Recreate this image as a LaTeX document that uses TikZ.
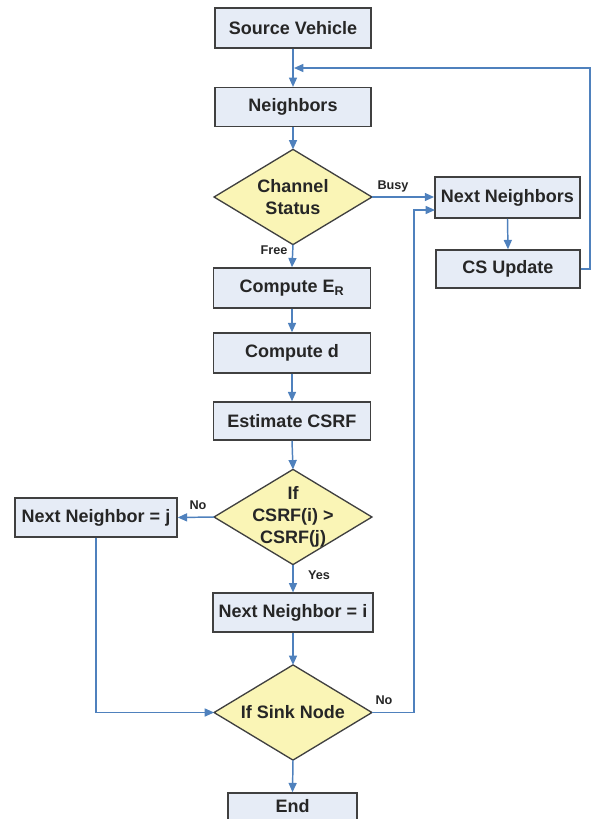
\documentclass[tikz,border=0pt]{standalone}
\usepackage{fontspec}
\setmainfont{Liberation Sans}
\usetikzlibrary{arrows.meta,backgrounds}
\definecolor{boxfill}{HTML}{E6ECF6}
\definecolor{boxdraw}{HTML}{404040}
\definecolor{dfill}{HTML}{FAF5B6}
\definecolor{lineblue}{HTML}{4F81BD}
\begin{document}
\begin{tikzpicture}[x=0.75pt,y=-0.75pt,
  stepbox/.style={draw=boxdraw,line width=1.1pt,fill=boxfill,inner sep=0pt,
    font=\fontsize{13.5}{16}\selectfont\bfseries,text=black!85},
  decbox/.style={inner sep=0pt,minimum width=118pt,minimum height=71pt,align=center,
    font=\fontsize{13.5}{16.5}\selectfont\bfseries,text=black!85},
  conn/.style={draw=lineblue,line width=1.1pt,-{Triangle[length=7pt,width=6pt]}},
  plain/.style={draw=lineblue,line width=1.1pt},
  lbl/.style={font=\fontsize{9.5}{11}\selectfont\bfseries,text=black!85,inner sep=0pt}]
\useasboundingbox (0,0) rectangle (598,819);
\clip (0,0) rectangle (598,819);

\node[stepbox,minimum width=117pt,minimum height=30pt] (sv) at (293,28) {Source Vehicle};
\node[stepbox,minimum width=117pt,minimum height=29pt] (nb) at (293,107) {Neighbors};
\node[decbox] (cs) at (293,197) {Channel\\Status};
\node[stepbox,minimum width=109pt,minimum height=31pt] (nn) at (507.5,197.5) {Next Neighbors};
\node[stepbox,minimum width=108pt,minimum height=28.5pt] (csu) at (508,269) {CS Update};
\node[stepbox,minimum width=118pt,minimum height=30pt] (cer) at (292,288) {Compute E\textsubscript{R}};
\node[stepbox,minimum width=118pt,minimum height=30pt] (cd) at (292,353) {Compute d};
\node[stepbox,minimum width=118pt,minimum height=28.5pt] (ec) at (292,421) {Estimate CSRF};
\node[decbox] (csrf) at (293,517) {If\\CSRF(i) >\\CSRF(j)};
\node[stepbox,minimum width=121.5pt,minimum height=29pt] (nnj) at (96,517.5) {Next Neighbor = j};
\node[stepbox,minimum width=120pt,minimum height=29pt] (nni) at (293,612.5) {Next Neighbor = i};
\node[decbox] (sink) at (293,712.5) {If Sink Node};
\node[stepbox,minimum width=97pt,minimum height=30pt,text depth=0pt] (end) at (292.5,813) {};
\node[font=\fontsize{13.5}{16}\selectfont\bfseries,text=black!85,inner sep=0pt] (endt) at (292.5,806) {End};

\begin{scope}[on background layer]
  \foreach \d in {cs,csrf,sink}{
    \draw[draw=boxdraw,line width=1pt,fill=dfill]
      (\d.north) -- (\d.east) -- (\d.south) -- (\d.west) -- cycle;
  }
\end{scope}

\coordinate (merge) at (294,68);
\coordinate (rtop) at (590,68);
\coordinate (rbot) at (590,269);
\coordinate (vx) at (414,712.5);
\coordinate (vt) at (414,210);
\coordinate (nnin) at (435,210);
\coordinate (jc) at (96,712.5);

\draw[conn] (sv.south) -- (nb.north);
\draw[conn] (csu.east) -- (rbot) -- (rtop) -- (merge);
\draw[conn] (nb.south) -- (cs.north);
\draw[conn] (cs.east) -- (cs.east -| nn.west);
\node[lbl] (busy) at (393,186) {Busy};
\draw[conn] (cs.south) -- (cer.north);
\node[lbl] (free) at (274,250) {Free};
\draw[conn] (cer.south) -- (cd.north);
\draw[conn] (cd.south) -- (ec.north);
\draw[conn] (ec.south) -- (csrf.north);
\draw[conn] (csrf.west) -- (nnj.east);
\node[lbl] (no1) at (198,505) {No};
\draw[conn] (csrf.south) -- (nni.north);
\node[lbl] (yes) at (319,575) {Yes};
\draw[conn] (nni.south) -- (sink.north);
\draw[conn] (nnj.south) -- (jc) -- (sink.west);
\draw[conn] (sink.east) -- (vx) -- (vt) -- (nnin);
\node[lbl] (no2) at (384,700) {No};
\draw[conn] (nn.south) -- (csu.north);
\draw[conn] (sink.south) -- (end.north);
\end{tikzpicture}
\end{document}
